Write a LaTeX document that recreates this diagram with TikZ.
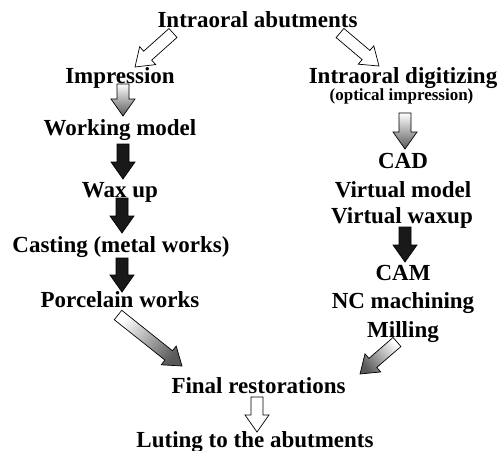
\documentclass[tikz,border=0pt]{standalone}
\usepackage{fontspec}
\setmainfont{Liberation Serif}
\usetikzlibrary{calc}
% #1 style, #2 name, #3 tail, #4 tip
\newcommand\blockarrow[4]{%
  \path let \p1=($(#4)-(#3)$), \n1={atan2(\y1,\x1)} in \pgfextra{\xdef\arang{\n1}};
  \coordinate (#2h) at ($(#4)!17pt!(#3)$);
  \path[#1]
    ($(#3)!6pt!90:(#4)$) -- ($(#2h)!6pt!90:(#4)$) -- ($(#2h)!12pt!90:(#4)$) -- (#4)
    -- ($(#2h)!12pt!-90:(#4)$) -- ($(#2h)!6pt!-90:(#4)$) -- ($(#3)!6pt!-90:(#4)$) -- cycle;}
\begin{document}
\begin{tikzpicture}[x=1pt,y=-1pt,
  lbl/.style={font=\fontsize{23}{27}\selectfont\bfseries, anchor=base, inner sep=0pt, text=black},
  sml/.style={font=\fontsize{17}{20}\selectfont\bfseries, anchor=base, inner sep=0pt, text=black},
  barrow/.style={draw=black, line width=0.7pt, line join=miter},
  whitearr/.style={barrow, fill=white},
  blackarr/.style={barrow, fill=black!90},
  gradarr/.style={barrow, top color=white, bottom color=black!65, shading angle=\arang+90},
]
\useasboundingbox (0,0) rectangle (500,450);
% labels
\node[lbl] (top) at (257.5,27) {Intraoral abutments};
\node[lbl] (imp) at (120,83) {Impression};
\node[lbl] (dig) at (403,83) {Intraoral digitizing};
\node[sml] (opt) at (401.5,100) {(optical impression)};
\node[lbl] (work) at (120,135) {Working model};
\node[lbl] (wax) at (120,197) {Wax up};
\node[lbl] (cast) at (121,252) {Casting (metal works)};
\node[lbl] (porc) at (120,307) {Porcelain works};
\node[lbl] (cad) at (403,168) {CAD};
\node[lbl] (vmod) at (403,197) {Virtual model};
\node[lbl] (vwax) at (402,223) {Virtual waxup};
\node[lbl] (cam) at (403,280) {CAM};
\node[lbl] (nc) at (403,308) {NC machining};
\node[lbl] (mill) at (403,337) {Milling};
\node[lbl] (final) at (258.5,393) {Final restorations};
\node[lbl] (lut) at (255,447) {Luting to the abutments};
% arrow end points
\coordinate (a1s) at (173,33); \coordinate (a1e) at (135,67);
\coordinate (a2s) at (340,33); \coordinate (a2e) at (379,66);
\coordinate (a3s) at (123,84); \coordinate (a3e) at (123,116);
\coordinate (a4s) at (123,144); \coordinate (a4e) at (123,179);
\coordinate (a5s) at (122,198); \coordinate (a5e) at (122,233);
\coordinate (a6s) at (122,258); \coordinate (a6e) at (122,292);
\coordinate (a7s) at (405,113); \coordinate (a7e) at (405,149);
\coordinate (a8s) at (405,227); \coordinate (a8e) at (405,262);
\coordinate (a9s) at (118,315); \coordinate (a9e) at (182,366);
\coordinate (a10s) at (397,342); \coordinate (a10e) at (360,374);
\coordinate (a11s) at (257,397); \coordinate (a11e) at (257,432);
% arrows
\blockarrow{whitearr}{A1}{a1s}{a1e}
\blockarrow{whitearr}{A2}{a2s}{a2e}
\blockarrow{gradarr}{A3}{a3s}{a3e}
\blockarrow{blackarr}{A4}{a4s}{a4e}
\blockarrow{blackarr}{A5}{a5s}{a5e}
\blockarrow{blackarr}{A6}{a6s}{a6e}
\blockarrow{gradarr}{A7}{a7s}{a7e}
\blockarrow{blackarr}{A8}{a8s}{a8e}
\blockarrow{gradarr}{A9}{a9s}{a9e}
\blockarrow{gradarr}{A10}{a10s}{a10e}
\blockarrow{whitearr}{A11}{a11s}{a11e}
\end{tikzpicture}
\end{document}
